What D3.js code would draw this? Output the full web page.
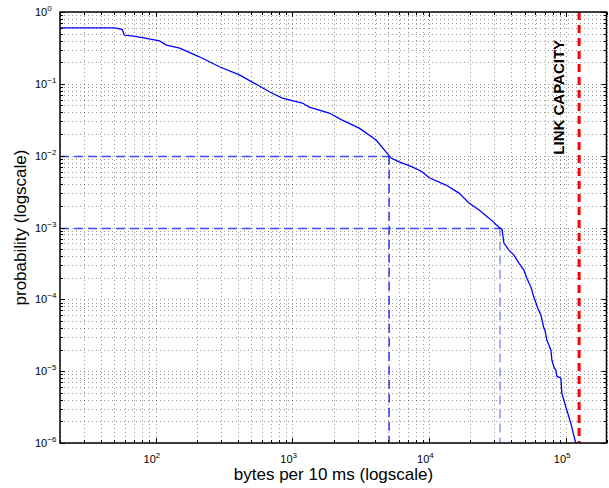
<!DOCTYPE html>
<html>
<head>
<meta charset="utf-8">
<script src="https://cdn.jsdelivr.net/npm/d3@7"></script>
<style>
  body { margin: 0; background: #fff; overflow: hidden; }
  text { font-family: "Liberation Sans", Arial, Helvetica, sans-serif; fill: #000; }
</style>
</head>
<body>
<svg id="ccdf" width="609" height="488"></svg>
<script>
// CCDF of bytes per 10 ms
const bytes = [20, 50, 57, 59, 73, 107, 120, 150, 209, 293, 410, 574, 679, 845, 1183,
  1331, 1862, 2317, 3083, 4102, 4853, 5280, 6040, 7520, 8890, 10000, 13300, 16560,
  19590, 23180, 27420, 32430, 34120, 35250, 38370, 41730, 45390, 49370, 51890, 55560,
  58400, 62500, 65770, 69100, 70300, 72700, 77800, 79100, 81700, 84500, 85900, 92000,
  93500, 96700, 101700, 108700, 114300, 118200];
const prob = [0.6, 0.6, 0.574, 0.478, 0.453, 0.395, 0.347, 0.315, 0.238, 0.173, 0.133,
  0.0932, 0.0776, 0.0634, 0.054, 0.0475, 0.0392, 0.0313, 0.0242, 0.0165, 0.0112, 0.00926,
  0.00822, 0.0070, 0.00597, 0.00492, 0.0039, 0.00301, 0.00219, 0.00175, 0.00135, 0.00101,
  0.00095, 0.000606, 0.000484, 0.000413, 0.000319, 0.000255, 0.000197, 0.000148, 0.000107,
  7.54e-5, 6.02e-5, 3.97e-5, 3.72e-5, 2.7e-5, 1.96e-5, 1.42e-5, 1.14e-5, 1.03e-5, 8.51e-6,
  8.0e-6, 4.94e-6, 3.94e-6, 2.86e-6, 1.89e-6, 1.28e-6, 1e-6];

// dashed guides: probability level -> bytes where the curve crosses it
const guideProb = [1e-2, 1e-3];
const guideBytes = [5100, 33000];

const linkCapacity = 125000;
const linkLabel = "LINK CAPACITY";

const xDomain = [20, 2e5];
const yDomain = [1e-6, 1];
const xTickExps = [2, 3, 4, 5];
const yTickExps = [0, -1, -2, -3, -4, -5, -6];

const xLabel = "bytes per 10 ms (logscale)";
const yLabel = "probability (logscale)";

const svg = d3.select("#ccdf");
const width = +svg.attr("width");
const height = +svg.attr("height");
const margin = { top: 12, right: 2, bottom: 45, left: 60 };
const innerWidth = width - margin.left - margin.right;
const innerHeight = height - margin.top - margin.bottom;

const g = svg.append("g")
  .attr("transform", `translate(${margin.left},${margin.top})`);

const x = d3.scaleLog().domain(xDomain).range([0, innerWidth]);
const y = d3.scaleLog().domain(yDomain).range([innerHeight, 0]);

// minor + major grid positions (1..9 x 10^k inside the domain)
const logTicks = (lo, hi) => {
  const out = [];
  for (let k = Math.floor(Math.log10(lo)); k <= Math.ceil(Math.log10(hi)); k++) {
    for (let m = 1; m <= 9; m++) {
      const v = m * Math.pow(10, k);
      if (v >= lo * 0.9999 && v <= hi * 1.0001) out.push(v);
    }
  }
  return out;
};
const xGrid = logTicks(xDomain[0], xDomain[1]);
const yGrid = logTicks(yDomain[0], yDomain[1]);
const isMajor = v => Math.abs(Math.log10(v) - Math.round(Math.log10(v))) < 1e-9;

// grid (dotted)
const grid = g.append("g")
  .attr("stroke", "#000")
  .attr("stroke-width", 0.8)
  .attr("stroke-opacity", 0.5)
  .attr("stroke-dasharray", "1,3");

grid.selectAll("line.gx")
  .data(xGrid)
  .enter().append("line")
  .attr("class", "gx")
  .attr("x1", d => Math.round(x(d)) + 0.5)
  .attr("x2", d => Math.round(x(d)) + 0.5)
  .attr("y1", 0)
  .attr("y2", innerHeight);

grid.selectAll("line.gy")
  .data(yGrid)
  .enter().append("line")
  .attr("class", "gy")
  .attr("y1", d => Math.round(y(d)) + 0.5)
  .attr("y2", d => Math.round(y(d)) + 0.5)
  .attr("x1", 0)
  .attr("x2", innerWidth);

// dashed guide lines
const guides = g.append("g")
  .attr("stroke-dasharray", "9,5")
  .attr("fill", "none");

guideProb.forEach((p, i) => {
  guides.append("line")
    .attr("x1", 0)
    .attr("x2", x(guideBytes[i]))
    .attr("y1", Math.round(y(p)) + 0.5)
    .attr("y2", Math.round(y(p)) + 0.5)
    .attr("stroke", "#3a4cf5")
    .attr("stroke-width", 1.3);
  guides.append("line")
    .attr("x1", x(guideBytes[i]))
    .attr("x2", x(guideBytes[i]))
    .attr("y1", y(p))
    .attr("y2", innerHeight)
    .attr("stroke", i === 0 ? "#0000ff" : "#6a78f5")
    .attr("stroke-width", 1.2);
});

// curve
const line = d3.line()
  .x((d, i) => x(bytes[i]))
  .y(d => y(d));

g.append("path")
  .datum(prob)
  .attr("fill", "none")
  .attr("stroke", "#0000ff")
  .attr("stroke-width", 1.3)
  .attr("d", line);

// link capacity marker
g.append("line")
  .attr("x1", x(linkCapacity))
  .attr("x2", x(linkCapacity))
  .attr("y1", 0)
  .attr("y2", innerHeight)
  .attr("stroke", "#ff0000")
  .attr("stroke-width", 3)
  .attr("stroke-dasharray", "8,5");

g.append("text")
  .attr("transform", `translate(${x(linkCapacity) - 15},${y(1e-2) - 1}) rotate(-90)`)
  .attr("text-anchor", "start")
  .style("font-size", "15px")
  .style("font-weight", "bold")
  .text(linkLabel);

// frame with inward ticks on all sides
g.append("rect")
  .attr("width", innerWidth - 0.5)
  .attr("height", innerHeight)
  .attr("fill", "none")
  .attr("stroke", "#000")
  .attr("stroke-width", 1.5);

const ticks = g.append("g").attr("stroke", "#000").attr("stroke-width", 1);
xGrid.forEach(v => {
  const len = isMajor(v) ? 5 : 3;
  const px = Math.round(x(v)) + 0.5;
  ticks.append("line").attr("x1", px).attr("x2", px).attr("y1", innerHeight).attr("y2", innerHeight - len);
  ticks.append("line").attr("x1", px).attr("x2", px).attr("y1", 0).attr("y2", len);
});
yGrid.forEach(v => {
  const len = isMajor(v) ? 5 : 3;
  const py = Math.round(y(v)) + 0.5;
  ticks.append("line").attr("y1", py).attr("y2", py).attr("x1", 0).attr("x2", len);
  ticks.append("line").attr("y1", py).attr("y2", py).attr("x1", innerWidth - 0.5).attr("x2", innerWidth - 0.5 - len);
});

// tick labels: 10^k with superscript
const expText = e => (e < 0 ? "\u2212" + (-e) : String(e));

const xLabels = g.selectAll("text.xl")
  .data(xTickExps)
  .enter().append("text")
  .attr("class", "xl")
  .attr("x", d => x(Math.pow(10, d)) - 12)
  .attr("y", innerHeight + 20)
  .style("font-size", "11px");
xLabels.append("tspan").text("10");
xLabels.append("tspan").attr("dy", -5).style("font-size", "8px").text(d => expText(d));

const yLabels = g.selectAll("text.yl")
  .data(yTickExps)
  .enter().append("text")
  .attr("class", "yl")
  .attr("x", -25)
  .attr("y", d => y(Math.pow(10, d)) + 4)
  .style("font-size", "11px");
yLabels.append("tspan").text("10");
yLabels.append("tspan").attr("dy", -5).style("font-size", "8px").text(d => expText(d));

// axis titles
svg.append("text")
  .attr("x", margin.left + innerWidth / 2)
  .attr("y", height - 8)
  .attr("text-anchor", "middle")
  .style("font-size", "17px")
  .text(xLabel);

svg.append("text")
  .attr("transform", `translate(26,${margin.top + innerHeight / 2}) rotate(-90)`)
  .attr("text-anchor", "middle")
  .style("font-size", "17px")
  .text(yLabel);
</script>
</body>
</html>
